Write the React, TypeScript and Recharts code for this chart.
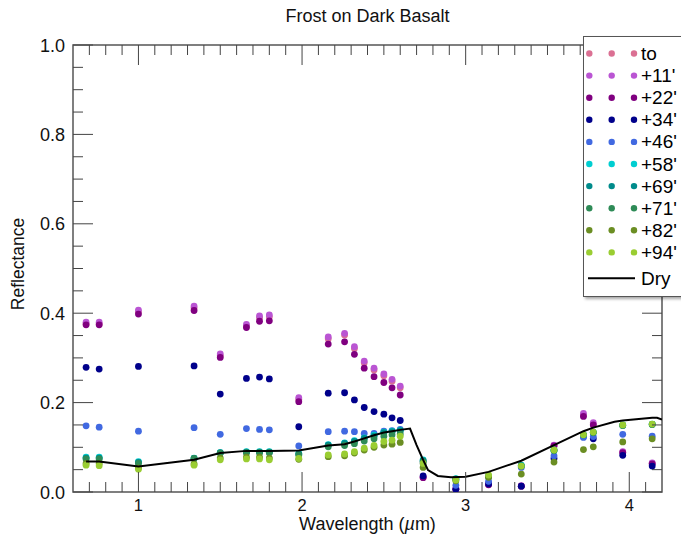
import { ScatterChart, Scatter, XAxis, YAxis, ReferenceArea } from 'recharts'

const FONT = '"Liberation Sans", Arial, Helvetica, sans-serif'
const AXIS = '#444'

// band centres (µm)
const wavelengths = [0.68, 0.76, 1.0, 1.34, 1.5, 1.66, 1.74, 1.8, 1.98, 2.16, 2.26, 2.32, 2.38, 2.44, 2.5, 2.55, 2.6, 2.74, 2.94, 3.14, 3.34, 3.54, 3.72, 3.78, 3.96, 4.14]

const frostTo = [0.376, 0.376, 0.403, 0.412, 0.305, 0.371, 0.390, 0.392, 0.207, 0.343, 0.351, 0.321, 0.289, 0.273, 0.260, 0.248, 0.233, 0.033, 0.007, 0.017, 0.013, 0.104, 0.172, 0.152, 0.089, 0.064]
const frost11 = [0.380, 0.380, 0.407, 0.416, 0.309, 0.375, 0.394, 0.396, 0.211, 0.347, 0.355, 0.325, 0.293, 0.277, 0.264, 0.252, 0.237, 0.034, 0.008, 0.018, 0.014, 0.105, 0.176, 0.155, 0.090, 0.065]
const frost22 = [0.374, 0.374, 0.398, 0.406, 0.301, 0.368, 0.382, 0.383, 0.202, 0.331, 0.336, 0.308, 0.277, 0.258, 0.245, 0.233, 0.217, 0.032, 0.006, 0.016, 0.013, 0.103, 0.169, 0.150, 0.088, 0.063]
const frost34 = [0.279, 0.275, 0.281, 0.282, 0.219, 0.254, 0.257, 0.253, 0.146, 0.221, 0.222, 0.206, 0.189, 0.180, 0.174, 0.166, 0.160, 0.036, 0.006, 0.018, 0.013, 0.075, 0.125, 0.119, 0.082, 0.058]
const frost46 = [0.148, 0.145, 0.136, 0.144, 0.129, 0.142, 0.140, 0.139, 0.103, 0.135, 0.136, 0.135, 0.131, 0.131, 0.136, 0.137, 0.140, 0.065, 0.015, 0.024, 0.055, 0.081, 0.122, 0.124, 0.129, 0.125]
const frost58 = [0.078, 0.078, 0.068, 0.076, 0.088, 0.090, 0.090, 0.090, 0.086, 0.106, 0.110, 0.115, 0.121, 0.127, 0.134, 0.136, 0.138, 0.072, 0.030, 0.035, 0.060, 0.094, 0.128, 0.134, 0.150, 0.152]
const frost69 = [0.076, 0.076, 0.066, 0.075, 0.088, 0.089, 0.089, 0.089, 0.085, 0.105, 0.109, 0.113, 0.120, 0.125, 0.133, 0.135, 0.137, 0.070, 0.029, 0.035, 0.059, 0.093, 0.128, 0.133, 0.149, 0.151]
const frost71 = [0.074, 0.074, 0.064, 0.075, 0.087, 0.088, 0.088, 0.088, 0.083, 0.101, 0.104, 0.108, 0.114, 0.119, 0.125, 0.128, 0.130, 0.068, 0.029, 0.034, 0.058, 0.093, 0.128, 0.133, 0.149, 0.151]
const frost82 = [0.064, 0.064, 0.054, 0.063, 0.076, 0.078, 0.078, 0.076, 0.073, 0.079, 0.081, 0.087, 0.094, 0.100, 0.105, 0.107, 0.111, 0.055, 0.025, 0.033, 0.040, 0.067, 0.095, 0.101, 0.112, 0.119]
const frost94 = [0.060, 0.059, 0.051, 0.060, 0.072, 0.074, 0.074, 0.072, 0.075, 0.083, 0.085, 0.090, 0.098, 0.104, 0.113, 0.116, 0.125, 0.064, 0.027, 0.038, 0.058, 0.094, 0.128, 0.134, 0.150, 0.152]

// dry basalt spectrum
const dryWl = [0.68, 0.76, 1.0, 1.34, 1.5, 1.66, 1.8, 1.98, 2.16, 2.26, 2.32, 2.38, 2.44, 2.5, 2.55, 2.6, 2.66, 2.7, 2.74, 2.77, 2.83, 2.91, 3.0, 3.14, 3.34, 3.54, 3.72, 3.78, 3.91, 3.96, 4.14, 4.17, 4.2]
const dryRefl = [0.068, 0.068, 0.057, 0.072, 0.087, 0.092, 0.092, 0.093, 0.104, 0.107, 0.113, 0.120, 0.127, 0.133, 0.136, 0.139, 0.142, 0.105, 0.072, 0.049, 0.036, 0.033, 0.034, 0.045, 0.070, 0.105, 0.136, 0.144, 0.157, 0.160, 0.166, 0.166, 0.162]

const series = [
  { name: 'to', color: '#db7093', values: frostTo },
  { name: "+11'", color: '#ba55d3', values: frost11 },
  { name: "+22'", color: '#800080', values: frost22 },
  { name: "+34'", color: '#00008b', values: frost34 },
  { name: "+46'", color: '#4169e1', values: frost46 },
  { name: "+58'", color: '#00ced1', values: frost58 },
  { name: "+69'", color: '#008b8b', values: frost69 },
  { name: "+71'", color: '#2e8b57', values: frost71 },
  { name: "+82'", color: '#6b8e23', values: frost82 },
  { name: "+94'", color: '#9acd32', values: frost94 },
]

const xTicks = Array.from({ length: 35 }, (_, i) => Math.round((0.7 + i * 0.1) * 10) / 10)
const yTicks = Array.from({ length: 21 }, (_, i) => Math.round(i * 0.05 * 100) / 100)

const PLOT_W = 589
const PLOT_H = 447

function XTick(props: any) {
  const { x, y, payload } = props
  const v = payload.value
  const major = Math.abs(v - Math.round(v)) < 1e-6
  const len = major ? 20 : 10
  return (
    <g>
      <line x1={x} x2={x} y1={y} y2={y - len} stroke={AXIS} />
      <line x1={x} x2={x} y1={y - PLOT_H} y2={y - PLOT_H + len} stroke={AXIS} />
      {major && (
        <text x={x} y={y + 19} textAnchor="middle" fontSize={16.5} fontFamily={FONT} fill="#111">
          {v}
        </text>
      )}
    </g>
  )
}

function YTick(props: any) {
  const { x, y, payload } = props
  const v = payload.value
  const major = Math.abs(v * 5 - Math.round(v * 5)) < 1e-6
  const len = major ? 20 : 10
  return (
    <g>
      <line x1={x} x2={x + len} y1={y} y2={y} stroke={AXIS} />
      <line x1={x + PLOT_W} x2={x + PLOT_W - len} y1={y} y2={y} stroke={AXIS} />
      {major && (
        <text x={x - 8} y={y + 6.5} textAnchor="end" fontSize={18} fontFamily={FONT} fill="#111">
          {v.toFixed(1)}
        </text>
      )}
    </g>
  )
}

const dot = (color: string) => (p: any) => <circle cx={p.cx} cy={p.cy} r={3.4} fill={color} />

function LegendBox() {
  const rowY = (i: number) => 17.5 + i * 22.1
  return (
    <svg width={110} height={262} style={{ position: 'absolute', left: 583, top: 36, overflow: 'visible' }}>
      <rect x={0.5} y={0.5} width={120} height={260} fill="#fff" stroke="#555" style={{ filter: 'drop-shadow(2px 2px 1.5px rgba(0,0,0,0.35))' }} />
      {series.map((s, i) => (
        <g key={s.name}>
          {[6.3, 28.7, 51].map((cx) => (
            <circle key={cx} cx={cx} cy={rowY(i)} r={3.2} fill={s.color} />
          ))}
          <text x={58} y={rowY(i) + 6.5} fontSize={19} fontFamily={FONT} fill="#000">
            {s.name}
          </text>
        </g>
      ))}
      <line x1={5} x2={52} y1={242.3} y2={242.3} stroke="#000" strokeWidth={2} />
      <text x={58} y={248.8} fontSize={19} fontFamily={FONT} fill="#000">
        Dry
      </text>
    </svg>
  )
}

export default function App() {
  const dryData = dryWl.map((x, i) => ({ x, y: dryRefl[i] }))
  return (
    <div style={{ position: 'relative', width: 681, height: 535, overflow: 'hidden', background: '#fff' }}>
      <style>{'body{margin:0}'}</style>
      <ScatterChart width={681} height={535} margin={{ top: 45, right: 19, bottom: 42, left: 72 }}>
        <XAxis
          type="number"
          dataKey="x"
          domain={[0.6, 4.2]}
          ticks={xTicks}
          interval={0}
          height={1}
          tickSize={0}
          tickMargin={0}
          tickLine={false}
          axisLine={false}
          tick={<XTick />}
          allowDataOverflow
        />
        <YAxis
          type="number"
          dataKey="y"
          domain={[0, 1]}
          ticks={yTicks}
          interval={0}
          width={1}
          tickSize={0}
          tickMargin={0}
          tickLine={false}
          axisLine={false}
          tick={<YTick />}
          allowDataOverflow
        />
        <ReferenceArea x1={0.6} x2={4.2} y1={0} y2={1} fill="none" stroke="#555" strokeWidth={1.5} />
        {series.map((s) => (
          <Scatter
            key={s.name}
            name={s.name}
            data={wavelengths.map((x, i) => ({ x, y: s.values[i] }))}
            shape={dot(s.color)}
            isAnimationActive={false}
          />
        ))}
        <Scatter
          name="Dry"
          data={dryData}
          line={{ stroke: '#000', strokeWidth: 2 }}
          shape={() => <g />}
          isAnimationActive={false}
        />
      </ScatterChart>
      <div style={{ position: 'absolute', left: 0, width: 735, top: 6, textAlign: 'center', fontFamily: FONT, fontSize: 18, color: '#111' }}>
        Frost on Dark Basalt
      </div>
      <div style={{ position: 'absolute', left: 0, width: 735, top: 515, lineHeight: '18px', textAlign: 'center', fontFamily: FONT, fontSize: 18, color: '#111' }}>
        Wavelength (<i>µ</i>m)
      </div>
      <div
        style={{
          position: 'absolute',
          left: 18,
          top: 264,
          transform: 'translate(-50%, -50%) rotate(-90deg)',
          fontFamily: FONT,
          fontSize: 17.5,
          color: '#111',
          whiteSpace: 'nowrap',
        }}
      >
        Reflectance
      </div>
      <LegendBox />
    </div>
  )
}
